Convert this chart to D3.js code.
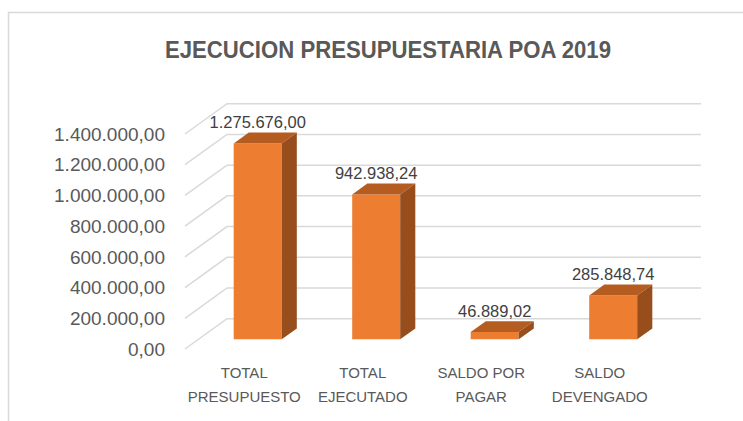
<!DOCTYPE html>
<html>
<head>
<meta charset="utf-8">
<script src="https://cdn.jsdelivr.net/npm/d3@7"></script>
<style>
  body { margin: 0; background: #fff; }
  svg { display: block; }
</style>
</head>
<body>
<svg id="drawing_region"></svg>
<script>
const categories = ['TOTAL PRESUPUESTO', 'TOTAL EJECUTADO', 'SALDO POR PAGAR', 'SALDO DEVENGADO'];
const categoryLines = [['TOTAL', 'PRESUPUESTO'], ['TOTAL', 'EJECUTADO'], ['SALDO POR', 'PAGAR'], ['SALDO', 'DEVENGADO']];
const values = [1275676.00, 942938.24, 46889.02, 285848.74];
const yTicks = [0, 200000, 400000, 600000, 800000, 1000000, 1200000, 1400000];
const title = 'EJECUCION PRESUPUESTARIA POA 2019';

const data = categories.map((c, i) => ({ label: c, lines: categoryLines[i], value: values[i] }));

const locale = d3.formatLocale({ decimal: ',', thousands: '.', grouping: [3], currency: ['', ''] });
const fmt = locale.format(',.2f');

let config = {
  parent: '#drawing_region',
  width: 743,
  height: 421,
  front: { left: 185, right: 659, top: 134, bottom: 349 },
  depth: { dx: 42, dy: -30.3 },
};

class Bar3DChart {

  constructor( config, data ) {
    this.config = config;
    this.data = data;
    this.init();
  }

  init() {
    let self = this;
    const c = self.config;

    self.svg = d3.select( c.parent )
      .attr('width', c.width)
      .attr('height', c.height);

    // chart area border
    self.svg.append('path')
      .attr('d', `M8.5,${c.height} V12.5 H${c.width}`)
      .attr('fill', 'none')
      .attr('stroke', '#d9d9d9')
      .attr('stroke-width', 1.5);

    self.svg.append('text')
      .attr('x', 388)
      .attr('y', 50)
      .attr('dy', '0.35em')
      .attr('text-anchor', 'middle')
      .attr('font-family', '"Liberation Sans", Arial, sans-serif')
      .attr('font-weight', 'bold')
      .attr('font-size', 23)
      .attr('textLength', 446)
      .attr('lengthAdjust', 'spacingAndGlyphs')
      .attr('fill', '#595959')
      .text(title);

    self.x_scale = d3.scaleBand()
      .domain( self.data.map(d => d.label) )
      .range( [c.front.left, c.front.right] );

    self.y_scale = d3.scaleLinear()
      .domain( [0, 1400000] )
      .range( [c.front.bottom, c.front.top] );

    self.chart = self.svg.append('g');
  }

  render() {
    let self = this;
    const c = self.config;
    const dx = c.depth.dx, dy = c.depth.dy;

    // grid lines: side wall diagonal + back wall horizontal
    const grid = self.chart.append('g')
      .attr('stroke', '#d9d9d9')
      .attr('stroke-width', 1.5)
      .attr('fill', 'none');

    grid.selectAll('path')
      .data(yTicks)
      .join('path')
      .attr('d', d => {
        const y = self.y_scale(d);
        return `M${c.front.left},${y} L${c.front.left + dx},${y + dy} H${c.front.right + dx}`;
      });

    self.chart.append('g')
      .selectAll('text')
      .data(yTicks)
      .join('text')
      .attr('x', 165)
      .attr('y', d => self.y_scale(d))
      .attr('dy', '0.35em')
      .attr('text-anchor', 'end')
      .attr('font-family', '"Liberation Sans", Arial, sans-serif')
      .attr('font-size', 19)
      .attr('fill', '#595959')
      .text(d => fmt(d));

    // bars sit partway into the depth
    const f0 = 0.32, f1 = 0.68;
    const bw = self.x_scale.bandwidth() * 0.405;
    const bdx = dx * (f1 - f0), bdy = dy * (f1 - f0);

    const bars = self.chart.append('g')
      .selectAll('g')
      .data(self.data)
      .join('g');

    const left = d => self.x_scale(d.label) + self.x_scale.bandwidth() / 2 - bw / 2 + dx * f0;
    const top = d => self.y_scale(d.value) + dy * f0;
    const base = self.y_scale(0) + dy * f0;

    bars.append('path')
      .attr('fill', '#ed7d31')
      .attr('d', d => `M${left(d)},${base} V${top(d)} h${bw} V${base} Z`);

    bars.append('path')
      .attr('fill', '#b55d21')
      .attr('d', d => `M${left(d)},${top(d)} l${bdx},${bdy} h${bw} l${-bdx},${-bdy} Z`);

    bars.append('path')
      .attr('fill', '#974d1c')
      .attr('d', d => `M${left(d) + bw},${base} V${top(d)} l${bdx},${bdy} V${base + bdy} Z`);

    bars.append('text')
      .attr('x', d => left(d) + bw / 2)
      .attr('y', d => top(d) + bdy - 10)
      .attr('dy', '0.35em')
      .attr('text-anchor', 'middle')
      .attr('font-family', '"Liberation Sans", Arial, sans-serif')
      .attr('font-size', 16.5)
      .attr('fill', '#404040')
      .text(d => fmt(d.value));

    // category labels
    const cats = self.chart.append('g')
      .selectAll('text')
      .data(self.data)
      .join('text')
      .attr('text-anchor', 'middle')
      .attr('font-family', '"Liberation Sans", Arial, sans-serif')
      .attr('font-size', 15)
      .attr('fill', '#595959');

    cats.selectAll('tspan')
      .data(d => d.lines.map(l => ({ l, x: self.x_scale(d.label) + self.x_scale.bandwidth() / 2 })))
      .join('tspan')
      .attr('x', d => d.x)
      .attr('y', (d, i) => 373 + i * 24)
      .attr('dy', '0.35em')
      .text(d => d.l);
  }
}

const chart = new Bar3DChart( config, data );
chart.render();
</script>
</body>
</html>
